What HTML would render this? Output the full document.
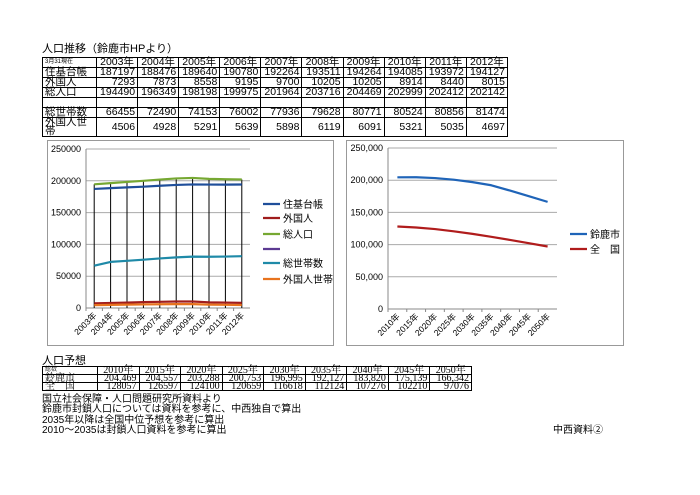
<!DOCTYPE html>
<html><head><meta charset="utf-8">
<style>
body{margin:0;background:#fff;}
#wrap{position:relative;width:700px;height:495px;overflow:hidden;font-family:"Liberation Sans","Noto Sans CJK JP",sans-serif;color:#000;}
.t{position:absolute;font-size:11px;white-space:nowrap;line-height:1;}
table{position:absolute;border-collapse:collapse;table-layout:fixed;}
#top td{border:1px solid #000;font-size:10.5px;padding:0 2px;text-align:right;height:9px;line-height:9px;}
#top td.h{text-align:center;}
#top td.l{text-align:left;}
#bot td{border:1px solid #000;font-family:"Liberation Serif","Noto Serif CJK SC",serif;font-size:10px;padding:0 2px;text-align:right;height:7px;line-height:7px;}
#bot td.h{text-align:center;}
#bot td.l{text-align:left;}
svg{position:absolute;left:0;top:0;}
</style></head><body>
<div id="wrap">
<div class="t" style="left:42px;top:44px;">人口推移（鈴鹿市HPより）</div>
<table id="top" style="left:42px;top:57px;width:466px;">
<colgroup><col style="width:54px"><col span="10"></colgroup>
<tr><td class="l" style="font-size:6px">3月31現在</td><td class="h">2003年</td><td class="h">2004年</td><td class="h">2005年</td><td class="h">2006年</td><td class="h">2007年</td><td class="h">2008年</td><td class="h">2009年</td><td class="h">2010年</td><td class="h">2011年</td><td class="h">2012年</td></tr>
<tr><td class="l">住基台帳</td><td>187197</td><td>188476</td><td>189640</td><td>190780</td><td>192264</td><td>193511</td><td>194264</td><td>194085</td><td>193972</td><td>194127</td></tr>
<tr><td class="l">外国人</td><td>7293</td><td>7873</td><td>8558</td><td>9195</td><td>9700</td><td>10205</td><td>10205</td><td>8914</td><td>8440</td><td>8015</td></tr>
<tr><td class="l">総人口</td><td>194490</td><td>196349</td><td>198198</td><td>199975</td><td>201964</td><td>203716</td><td>204469</td><td>202999</td><td>202412</td><td>202142</td></tr>
<tr><td class="l"></td><td></td><td></td><td></td><td></td><td></td><td></td><td></td><td></td><td></td><td></td></tr>
<tr><td class="l">総世帯数</td><td>66455</td><td>72490</td><td>74153</td><td>76002</td><td>77936</td><td>79628</td><td>80771</td><td>80524</td><td>80856</td><td>81474</td></tr>
<tr><td class="l">外国人世帯</td><td>4506</td><td>4928</td><td>5291</td><td>5639</td><td>5898</td><td>6119</td><td>6091</td><td>5321</td><td>5035</td><td>4697</td></tr>
</table>

<svg width="700" height="495" id="charts">
<rect x="47.5" y="140.5" width="286" height="205" fill="none" stroke="#999"/>
<rect x="346.5" y="140.5" width="277" height="205" fill="none" stroke="#999"/>
<g id="left"></g><g id="right"></g>
</svg>

<div class="t" style="left:42px;top:356px;">人口予想</div>
<table id="bot" style="left:42px;top:366px;width:430px;">
<colgroup><col style="width:55px"><col span="9"></colgroup>
<tr><td class="l" style="font-size:6px">総数</td><td class="h">2010年</td><td class="h">2015年</td><td class="h">2020年</td><td class="h">2025年</td><td class="h">2030年</td><td class="h">2035年</td><td class="h">2040年</td><td class="h">2045年</td><td class="h">2050年</td></tr>
<tr><td class="l">鈴鹿市</td><td>204,469</td><td>204,557</td><td>203,288</td><td>200,753</td><td>196,995</td><td>192,127</td><td>183,820</td><td>175,139</td><td>166,342</td></tr>
<tr><td class="l">全　国</td><td>128057</td><td>126597</td><td>124100</td><td>120659</td><td>116618</td><td>112124</td><td>107276</td><td>102210</td><td>97076</td></tr>
</table>
<div class="t" style="left:42px;top:395px;font-size:10px">国立社会保障・人口問題研究所資料より</div>
<div class="t" style="left:42px;top:405px;font-size:10px">鈴鹿市封鎖人口については資料を参考に、中西独自で算出</div>
<div class="t" style="left:42px;top:416px;font-size:10px">2035年以降は全国中位予想を参考に算出</div>
<div class="t" style="left:42px;top:426px;font-size:10px">2010～2035は封鎖人口資料を参考に算出</div>
<div class="t" style="left:553px;top:426px;font-size:10px">中西資料②</div>
</div>
<script>
const leftYears=['2003年','2004年','2005年','2006年','2007年','2008年','2009年','2010年','2011年','2012年'];
const jukiSeries=[187197,188476,189640,190780,192264,193511,194264,194085,193972,194127];
const foreignSeries=[7293,7873,8558,9195,9700,10205,10205,8914,8440,8015];
const totalSeries=[194490,196349,198198,199975,201964,203716,204469,202999,202412,202142];
const householdSeries=[66455,72490,74153,76002,77936,79628,80771,80524,80856,81474];
const foreignHouseholdSeries=[4506,4928,5291,5639,5898,6119,6091,5321,5035,4697];
const leftTicks=[0,50000,100000,150000,200000,250000];
const rightYears=['2010年','2015年','2020年','2025年','2030年','2035年','2040年','2045年','2050年'];
const suzukaSeries=[204469,204557,203288,200753,196995,192127,183820,175139,166342];
const nationSeries=[128057,126597,124100,120659,116618,112124,107276,102210,97076];
const rightTicks=['0','50,000','100,000','150,000','200,000','250,000'];
const NS='http://www.w3.org/2000/svg';
function mk(p,tag,at){const e=document.createElementNS(NS,tag);for(const k in at)e.setAttribute(k,at[k]);p.appendChild(e);return e;}
const FONT='"Liberation Sans","Noto Sans CJK JP",sans-serif';
function chart(g,o){
  const x=i=>o.x0+(o.x1-o.x0)/o.cats.length*(i+0.5);
  const y=v=>o.y0-(v/o.max)*(o.y0-o.y1);
  o.ticks.forEach((t,i)=>{const v=o.max*i/(o.ticks.length-1);
    const gl=mk(g,'line',{x1:o.x0,x2:o.x1,y1:y(v),y2:y(v),stroke:i==0?'#888':'#aaa','stroke-width':1});
    
    
    const tl=mk(g,'text',{x:o.x0-5,y:y(v)+3,'text-anchor':'end','font-size':9,'font-family':FONT});
    tl.textContent=t;
    
    });
  const ax=mk(g,'line',{x1:o.x0,x2:o.x0,y1:o.y1,y2:o.y0,stroke:'#888'});
  
  
  o.cats.forEach((c,i)=>{
    const tk=mk(g,'line',{x1:o.x0+(o.x1-o.x0)/o.cats.length*i,x2:o.x0+(o.x1-o.x0)/o.cats.length*i,y1:o.y0,y2:o.y0+3,stroke:'#888'});
    
    
    const tx=mk(g,'text',{x:x(i)+3,y:o.y0+8,'text-anchor':'end','font-size':8.5,'font-family':FONT,transform:`rotate(-45 ${x(i)+3} ${o.y0+8})`});
    tx.textContent=c;
    
    });
  if(o.drop){o.cats.forEach((c,i)=>{const dl=mk(g,'line',{x1:x(i),x2:x(i),y1:y(o.drop[i]),y2:o.y0,stroke:'#000','stroke-width':1});
    
    });}
  o.series.forEach((s,k)=>{
    if(s.data){const pl=mk(g,'polyline',{points:s.data.map((v,i)=>x(i)+','+y(v)).join(' '),fill:'none',stroke:s.color,'stroke-width':2.2,'stroke-linejoin':'round'});
      
      }
    const ly=o.legY[k];
    const ll=mk(g,'line',{x1:o.legX,x2:o.legX+17,y1:ly,y2:ly,stroke:s.color,'stroke-width':2.2});
    
    
    const lt=mk(g,'text',{x:o.legX+20,y:ly+4,'font-size':10,'font-family':FONT});
    lt.textContent=s.name;
    
    });
}
chart(document.getElementById('left'),{cats:leftYears,x0:86,x1:250,y0:308,y1:149,max:250000,ticks:leftTicks,drop:totalSeries,legX:263,legY:[204,218,234,249,263,279],
 series:[{id:'juki',name:'住基台帳',data:jukiSeries,color:'#1f4e9a'},{id:'foreign',name:'外国人',data:foreignSeries,color:'#a01c1c'},{id:'total',name:'総人口',data:totalSeries,color:'#76a832'},{id:'blank',name:'',data:null,color:'#5c3a92'},{id:'households',name:'総世帯数',data:householdSeries,color:'#1f8aa8'},{id:'foreign-households',name:'外国人世帯',data:foreignHouseholdSeries,color:'#e8731e'}]});
chart(document.getElementById('right'),{cats:rightYears,x0:388,x1:557,y0:309,y1:148,max:250000,ticks:rightTicks,legX:570,legY:[234,249],
 series:[{id:'suzuka',name:'鈴鹿市',data:suzukaSeries,color:'#1f64b8'},{id:'nation',name:'全　国',data:nationSeries,color:'#b01c1c'}]});
</script>
</body></html>
